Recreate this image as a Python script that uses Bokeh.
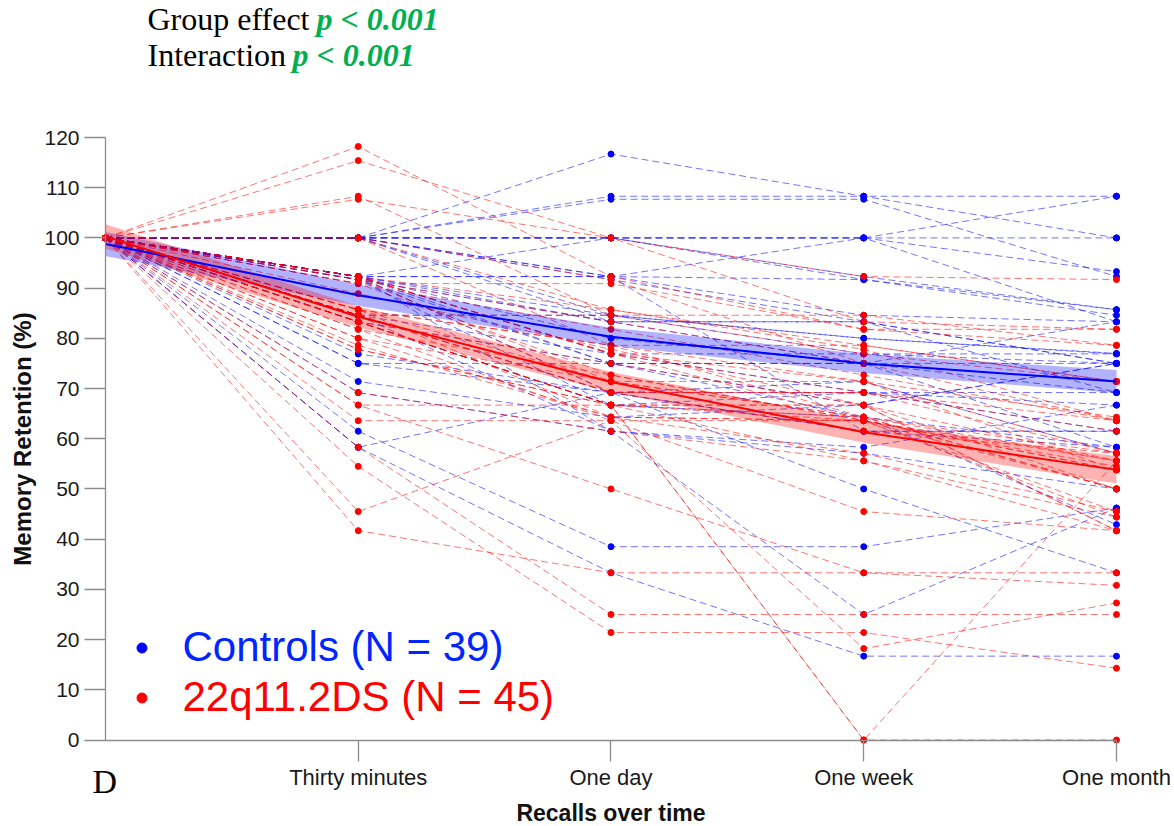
from bokeh.plotting import figure
from bokeh.models import Range1d, FixedTicker, Legend, LegendItem, Label
from bokeh.embed import file_html
from bokeh.resources import INLINE

# ---------------- data ----------------
time_labels = ["", "Thirty minutes", "One day", "One week", "One month"]
time_pos = [0, 1, 2, 3, 4]
baseline = 100.0  # every recall is expressed relative to the immediate recall

# Controls (N = 39): retention (%) at each later recall
ctrl_30min = [100, 100, 100, 100, 100, 100, 100, 100, 100, 100, 100, 100,
              92.3, 92.3, 92.3, 92.3, 92.3, 92.3, 92.3, 92.3, 92.3, 92.3,
              91.7, 91.7, 91.7, 84.6, 84.6, 84.6, 84.6, 83.3, 83.3,
              76.9, 75, 75, 71.4, 69.2, 61.5, 58.3, 58.3]
ctrl_1day = [116.7, 108.3, 107.7, 100, 100, 100, 100, 92.3, 92.3, 91.7, 84.6, 83.3,
             100, 92.3, 84.6, 83.3, 76.9, 75, 69.2, 92.3, 61.5, 80,
             83.3, 75, 66.7, 84.6, 69.2, 76.9, 61.5, 75, 66.7,
             69.2, 75, 69.2, 64.3, 61.5, 38.5, 33.3, 69.2]
ctrl_1week = [108.3, 108.3, 107.7, 100, 100, 100, 91.7, 100, 91.7, 83.3, 76.9, 83.3,
              92.3, 84.6, 80, 83.3, 76.9, 75, 69.2, 61.5, 25, 75,
              75, 66.7, 64.3, 80, 61.5, 69.2, 58.3, 75, 69.2,
              71.4, 64.3, 50, 66.7, 57.1, 38.5, 16.7, 61.5]
ctrl_1month = [108.3, 100, 92.3, 108.3, 100, 93.3, 85.7, 83.3, 84.6, 75, 76.9, 69.2,
               85.7, 83.3, 76.9, 75, 75, 69.2, 61.5, 58.3, 46.2, 83.3,
               58.3, 75, 42.9, 77, 61.5, 69.2, 66.7, 75, 66.7,
               57.1, 58.3, 33.3, 75, 50, 46.2, 16.7, 61.5]

# 22q11.2DS (N = 45)
pat_30min = [118.2, 115.4, 108.3, 107.7, 100, 100, 92.3, 92.3, 91.7, 90.9,
             90.9, 85.7, 85.7, 84.6, 84.6, 83.3, 83.3, 83.3, 81.8, 81.8,
             80, 80, 78.6, 77.8, 77.8, 92.3, 91.7, 85.7, 84.6, 90.9,
             83.3, 66.7, 66.7, 85.7, 83.3, 69.2, 63.6, 58.3, 54.5, 45.5,
             41.7, 100, 92.3, 88.9, 92.3]
pat_1day = [92.3, 100, 84.6, 100, 91.7, 78.6, 85.7, 77, 71.4, 81.8,
            72.7, 78.6, 64.3, 84.6, 69.2, 75, 66.7, 66.7, 72.7, 63.6,
            71.4, 64.3, 64.3, 66.7, 66.7, 76.9, 83.3, 71.4, 69.2, 90.9,
            66.7, 50, 66.7, 78.6, 66.7, 61.5, 63.6, 25, 21.4, 63.6,
            33.3, 85.7, 69.2, 77.8, 77]
pat_1week = [81.8, 92.3, 76.9, 83.3, 75, 71.4, 78.6, 63.6, 64.3, 72.7,
             63.6, 64.3, 63.6, 84.6, 69.2, 66.7, 0, 66.7, 63.6, 45.5,
             64.3, 57.1, 63.6, 0, 55.6, 69.2, 75, 71.4, 61.5, 81.8,
             66.7, 33.3, 63.6, 78.6, 64.3, 55.6, 63.6, 25, 21.4, 18.2,
             33.3, 77.8, 69.2, 66.7, 71.4]
pat_1month = [78.6, 91.7, 71.4, 81.8, 63.6, 57.1, 71.4, 55.6, 50, 63.6,
              44.4, 57.1, 53.8, 78.6, 63.6, 55.6, 0, 41.7, 54.5, 41.7,
              50, 45.5, 53.8, 55.6, 44.4, 61.5, 71.4, 64.3, 57.1, 81.8,
              50, 33.3, 45.5, 71.4, 55.6, 41.7, 50, 25, 14.3, 27.3,
              30.8, 63.6, 57.1, 41.7, 53.8]

# model fit and confidence band
ctrl_fit = [98.8, 88.6, 80.3, 75.0, 71.4]
ctrl_fit_lo = [96.4, 86.5, 78.5, 73.1, 69.1]
ctrl_fit_hi = [101.2, 90.7, 82.1, 76.9, 73.7]
pat_fit = [100.3, 84.3, 71.3, 61.3, 53.8]
pat_fit_lo = [97.9, 82.2, 69.3, 59.2, 51.1]
pat_fit_hi = [102.7, 86.4, 73.3, 63.4, 56.5]

# header / panel texts
stats_rows = [("Group effect", "p < 0.001"), ("Interaction", "p < 0.001")]
panel_letter = "D"

W, H = 1174, 826

# The frame covers the whole canvas; axes are pinned at x = 0 and y = 0
# so that the header texts and the panel letter can sit outside the axes.
p = figure(width=W, height=H, output_backend="svg", toolbar_location=None,
           x_range=Range1d(-0.41543, 4.22948), y_range=Range1d(-17.228, 147.287),
           min_border=0)
p.outline_line_color = None
p.xgrid.visible = False
p.ygrid.visible = False
p.background_fill_color = "white"
p.border_fill_color = "white"


def trajectories(cols):
    xs, ys, px, py = [], [], [], []
    for vals in zip(*cols):
        row = [baseline] + list(vals)
        xs.append(time_pos)
        ys.append(row)
        px.extend(time_pos)
        py.extend(row)
    return xs, ys, px, py


cxs, cys, cpx, cpy = trajectories([ctrl_30min, ctrl_1day, ctrl_1week, ctrl_1month])
pxs, pys, ppx, ppy = trajectories([pat_30min, pat_1day, pat_1week, pat_1month])

dash = "7 4"
p.multi_line(xs=cxs, ys=cys, line_color="#0000ff", line_alpha=0.55, line_width=1, line_dash=dash)
p.multi_line(xs=pxs, ys=pys, line_color="#ff0000", line_alpha=0.55, line_width=1, line_dash=dash)

r_c = p.scatter(x=cpx, y=cpy, size=6, color="#0000ff")
r_p = p.scatter(x=ppx, y=ppy, size=6, color="#ff0000")

p.varea(x=time_pos, y1=ctrl_fit_lo, y2=ctrl_fit_hi, fill_color="#0000ff", fill_alpha=0.3)
p.varea(x=time_pos, y1=pat_fit_lo, y2=pat_fit_hi, fill_color="#ff0000", fill_alpha=0.3)
p.line(x=time_pos, y=ctrl_fit, line_color="#0000ff", line_width=2)
p.line(x=time_pos, y=pat_fit, line_color="#ff0000", line_width=2)

# ---------------- axes ----------------
axis_gray = "#8c8c8c"
for ax in (p.xaxis[0], p.yaxis[0]):
    ax.fixed_location = 0
    ax.axis_line_color = axis_gray
    ax.axis_line_width = 1.3
    ax.major_tick_line_color = axis_gray
    ax.major_tick_line_width = 1.3
    ax.major_tick_out = 21
    ax.major_tick_in = 0
    ax.minor_tick_line_color = None
    ax.major_label_text_font = "Liberation Sans"
    ax.major_label_text_color = "#1a1a1a"
    ax.axis_label_text_font = "Liberation Sans"
    ax.axis_label_text_font_style = "bold"
    ax.axis_label_text_color = "#111111"

p.xaxis.bounds = (time_pos[0], time_pos[-1])
p.xaxis.ticker = FixedTicker(ticks=time_pos[1:])
p.xaxis.major_label_overrides = {i: lab for i, lab in zip(time_pos, time_labels)}
p.xaxis.major_label_text_font_size = "22px"
p.xaxis.major_label_standoff = 4
p.xaxis.axis_label = "Recalls over time"
p.xaxis.axis_label_text_font_size = "23px"
p.xaxis.axis_label_standoff = 6

y_ticks = list(range(0, 121, 10))
p.yaxis.bounds = (y_ticks[0], y_ticks[-1])
p.yaxis.ticker = FixedTicker(ticks=y_ticks)
p.yaxis.major_label_text_font_size = "21px"
p.yaxis.major_label_standoff = 5
p.yaxis.axis_label = "Memory Retention (%)"
p.yaxis.axis_label_text_font_size = "24px"
p.yaxis.axis_label_standoff = 5

# ---------------- legend ----------------
for label, rend, col, loc in [("Controls (N = 39)", r_c, "#0026ff", (128.5, 155)),
                              ("22q11.2DS (N = 45)", r_p, "#ff0000", (128.5, 105))]:
    leg = Legend(items=[LegendItem(label=label, renderers=[rend])], location=loc,
                 label_text_font="Liberation Sans", label_text_font_size="42px",
                 label_text_color=col, glyph_width=25, glyph_height=25, label_standoff=29,
                 padding=0, margin=0, border_line_color=None, background_fill_alpha=0)
    p.add_layout(leg)

# ---------------- header and panel letter ----------------
serif = "Liberation Serif"
green = "#00b050"
for (plain, stat), y_base, x_stat in zip(stats_rows, [H - 18, H - 54], [316, 292]):
    p.add_layout(Label(x=147, y=y_base, x_units="screen", y_units="screen", text=plain,
                       text_font=serif, text_font_size="32px", text_baseline="alphabetic",
                       text_color="black"))
    p.add_layout(Label(x=x_stat, y=y_base, x_units="screen", y_units="screen", text=stat,
                       text_font=serif, text_font_style="bold italic", text_font_size="32px",
                       text_baseline="alphabetic", text_color=green))
p.add_layout(Label(x=92, y=H - 781, x_units="screen", y_units="screen", text=panel_letter,
                   text_font=serif, text_font_size="34px", text_baseline="alphabetic",
                   text_color="black"))

open("out.html", "w").write(file_html(p, INLINE))
